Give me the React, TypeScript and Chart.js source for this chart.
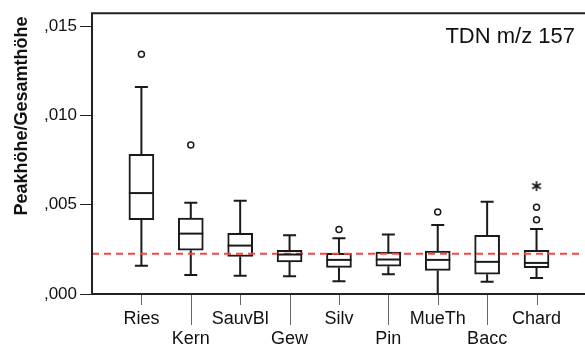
import React, { useEffect, useRef } from "react";
import { Chart, registerables } from "chart.js";

Chart.register(...registerables);

const categories = ["Ries", "Kern", "SauvBl", "Gew", "Silv", "Pin", "MueTh", "Bacc", "Chard"];
const whiskerLow = [0.00158, 0.00106, 0.00102, 0.00099, 0.00072, 0.0011, 0.0, 0.00069, 0.00089];
const q1 = [0.00416, 0.00245, 0.0021, 0.0018, 0.00149, 0.00156, 0.00132, 0.00111, 0.00147];
const medians = [0.00565, 0.00338, 0.00271, 0.00221, 0.00191, 0.00193, 0.00191, 0.0018, 0.00174];
const q3 = [0.00782, 0.00425, 0.0034, 0.00245, 0.00227, 0.00234, 0.0024, 0.00329, 0.00244];
const whiskerHigh = [0.01159, 0.00511, 0.00522, 0.00329, 0.00312, 0.00333, 0.00386, 0.00517, 0.00364];
const outlierCat = [0, 1, 4, 6, 8, 8];
const outlierVal = [0.01342, 0.00834, 0.00361, 0.00459, 0.00485, 0.00416];
const extremeCat = [8];
const extremeVal = [0.00604];
const referenceValue = 0.00225;
const yTicks = [0, 0.005, 0.01, 0.015];
const yTitle = "Peakhöhe/Gesamthöhe";
const chartTitle = "TDN m/z 157";

const INK = "#1a1a1a";

function makeAsterisk(): HTMLCanvasElement {
  const c = document.createElement("canvas");
  c.width = 14;
  c.height = 14;
  const g = c.getContext("2d")!;
  g.strokeStyle = INK;
  g.lineWidth = 1.6;
  g.lineCap = "butt";
  const cx = 7, cy = 7, r = 5;
  g.beginPath();
  for (let k = 0; k < 3; k++) {
    const a = Math.PI / 2 + (k * Math.PI) / 3;
    g.moveTo(cx + r * Math.cos(a), cy - r * Math.sin(a));
    g.lineTo(cx - r * Math.cos(a), cy + r * Math.sin(a));
  }
  g.stroke();
  return c;
}

export default function App() {
  const ref = useRef<HTMLCanvasElement | null>(null);

  useEffect(() => {
    const canvas = ref.current;
    if (!canvas) return;

    const boxPlugin = {
      id: "boxParts",
      beforeDatasetsDraw(chart: any) {
        const { ctx, scales } = chart;
        const xs = scales.x;
        const ys = scales.y;
        ctx.save();
        ctx.strokeStyle = INK;
        ctx.lineWidth = 2;
        categories.forEach((_, i) => {
          const x = xs.getPixelForValue(i);
          const yl = ys.getPixelForValue(whiskerLow[i]);
          const yq1 = ys.getPixelForValue(q1[i]);
          const yq3 = ys.getPixelForValue(q3[i]);
          const yh = ys.getPixelForValue(whiskerHigh[i]);
          ctx.beginPath();
          ctx.moveTo(x, yl);
          ctx.lineTo(x, yq1);
          ctx.moveTo(x, yq3);
          ctx.lineTo(x, yh);
          ctx.moveTo(x - 6.5, yl);
          ctx.lineTo(x + 6.5, yl);
          ctx.moveTo(x - 6.5, yh);
          ctx.lineTo(x + 6.5, yh);
          ctx.stroke();
        });
        ctx.restore();
      },
      afterDatasetsDraw(chart: any) {
        const { ctx, scales, chartArea } = chart;
        const xs = scales.x;
        const ys = scales.y;
        ctx.save();
        ctx.strokeStyle = INK;
        ctx.lineWidth = 2;
        categories.forEach((_, i) => {
          const x = xs.getPixelForValue(i);
          const ym = ys.getPixelForValue(medians[i]);
          ctx.beginPath();
          ctx.moveTo(x - 12.5, ym);
          ctx.lineTo(x + 12.5, ym);
          ctx.stroke();
        });
        // frame
        ctx.lineWidth = 2;
        ctx.strokeStyle = "#222";
        ctx.beginPath();
        ctx.moveTo(chart.width, chartArea.top);
        ctx.lineTo(chartArea.left, chartArea.top);
        ctx.lineTo(chartArea.left, chartArea.bottom);
        ctx.lineTo(chart.width, chartArea.bottom);
        ctx.stroke();
        // x ticks (staggered)
        ctx.lineWidth = 1;
        ctx.strokeStyle = "#666";
        categories.forEach((_, i) => {
          const x = Math.round(xs.getPixelForValue(i)) + 0.5;
          ctx.beginPath();
          ctx.moveTo(x, chartArea.bottom + 1);
          ctx.lineTo(x, chartArea.bottom + (i % 2 ? 31 : 11));
          ctx.stroke();
        });
        // y axis title
        ctx.fillStyle = "#111";
        ctx.font = "bold 18px 'Liberation Sans', Arial, sans-serif";
        ctx.save();
        ctx.translate(27, 116);
        ctx.rotate(-Math.PI / 2);
        ctx.textAlign = "center";
        ctx.textBaseline = "alphabetic";
        ctx.fillText(yTitle, 0, 0);
        ctx.restore();
        // chart title
        ctx.font = "22px 'Liberation Sans', Arial, sans-serif";
        ctx.textAlign = "right";
        ctx.textBaseline = "alphabetic";
        ctx.fillText(chartTitle, 575, 43);
        ctx.restore();
      },
    };

    const chart = new Chart(canvas, {
      data: {
        datasets: [
          {
            type: "line",
            data: [
              { x: -1, y: referenceValue },
              { x: 10, y: referenceValue },
            ],
            borderColor: "#f04848",
            borderWidth: 2,
            borderDash: [7, 5],
            pointRadius: 0,
            order: 0,
          } as any,
          {
            type: "scatter",
            data: outlierCat.map((c, i) => ({ x: c, y: outlierVal[i] })),
            pointStyle: "circle",
            radius: 3,
            borderColor: INK,
            borderWidth: 1.5,
            backgroundColor: "#fff",
            order: 0,
          } as any,
          {
            type: "scatter",
            data: extremeCat.map((c, i) => ({ x: c, y: extremeVal[i] })),
            pointStyle: makeAsterisk(),
            radius: 5,
            order: 0,
          } as any,
          {
            type: "bar",
            data: categories.map((_, i) => ({ x: i, y: [q1[i], q3[i]] })),
            backgroundColor: "#fff",
            borderColor: INK,
            borderWidth: 2,
            borderSkipped: false,
            barThickness: 25,
            order: 2,
          } as any,
        ],
      },
      options: {
        responsive: true,
        maintainAspectRatio: false,
        animation: false,
        events: [],
        layout: { padding: { left: 0, right: 0, top: 12, bottom: 0 } },
        plugins: {
          legend: { display: false },
          tooltip: { enabled: false },
        },
        scales: {
          x: {
            type: "linear",
            offset: false,
            min: -1,
            max: 8.86,
            afterBuildTicks: (s: any) => {
              s.ticks = categories.map((_, i) => ({ value: i }));
            },
            afterFit: (s: any) => {
              s.height = 51;
            },
            ticks: {
              autoSkip: false,
              maxRotation: 0,
              padding: 15,
              color: "#111",
              font: { family: "'Liberation Sans', Arial, sans-serif", size: 18, lineHeight: 1.11 },
              callback: (v: any) => {
                const i = Math.round(Number(v));
                const label = categories[i] ?? "";
                return i % 2 ? ["", label] : label;
              },
            },
            grid: { display: false, drawTicks: false, offset: false },
            border: { display: false },
          },
          y: {
            min: 0,
            max: 0.01572,
            afterBuildTicks: (s: any) => {
              s.ticks = yTicks.map((v) => ({ value: v }));
            },
            afterFit: (s: any) => {
              s.width = 92;
            },
            ticks: {
              padding: 3,
              color: "#111",
              font: { family: "'Liberation Sans', Arial, sans-serif", size: 17 },
              callback: (v: any) => Number(v).toFixed(3).replace(/^0\./, ","),
            },
            grid: { drawOnChartArea: false, drawTicks: true, tickLength: 12, color: "#222", lineWidth: 1 },
            border: { display: false },
          },
        },
      } as any,
      plugins: [boxPlugin],
    });

    return () => chart.destroy();
  }, []);

  return (
    <div style={{ position: "absolute", left: 0, top: 0, width: 585, height: 345, background: "#fff" }}>
      <canvas ref={ref} />
    </div>
  );
}
